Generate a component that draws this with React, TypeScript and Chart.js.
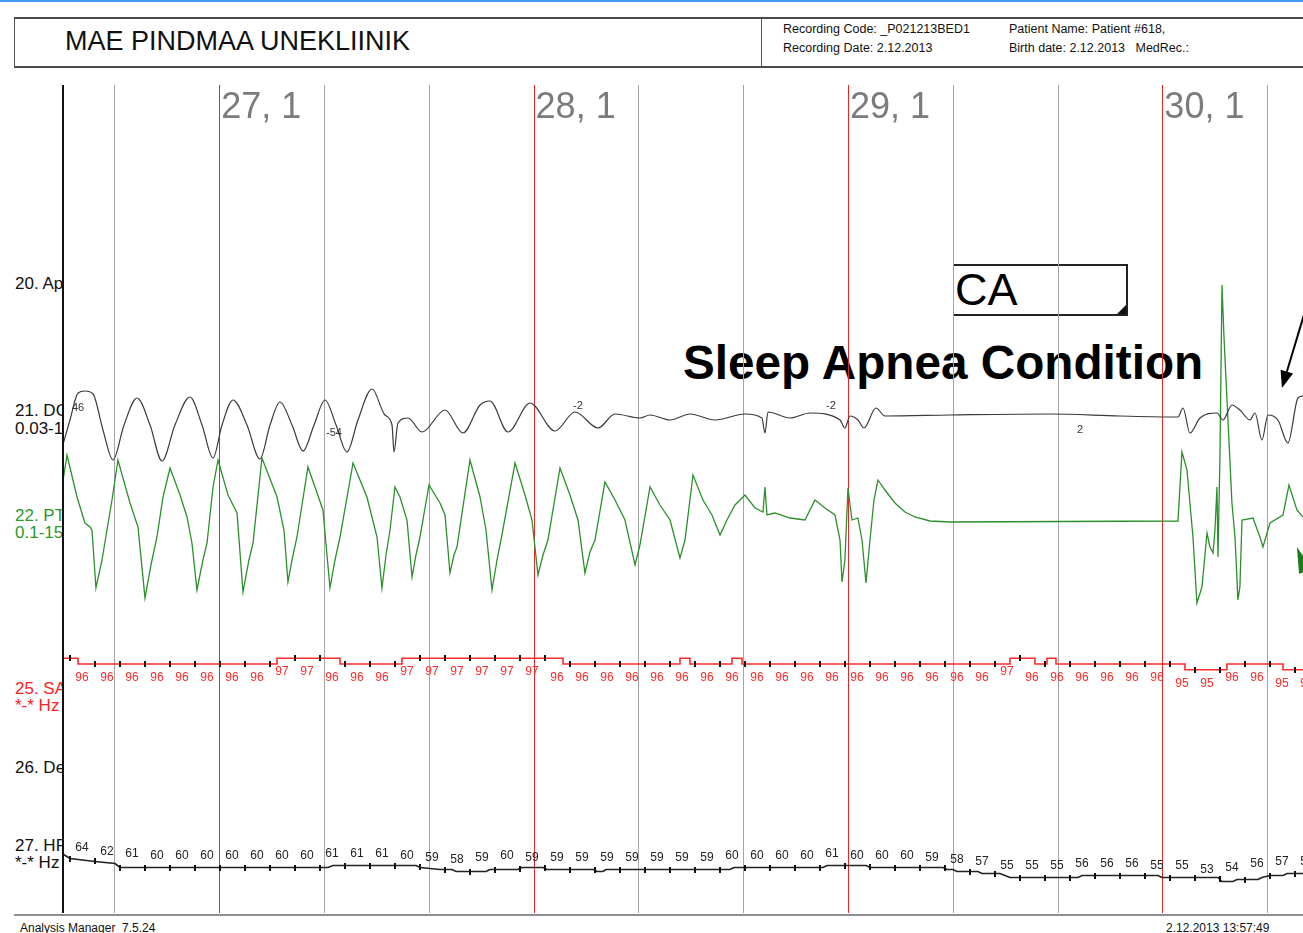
import React, { useEffect, useRef } from "react";
import { Chart, registerables } from "chart.js";

Chart.register(...registerables);

// ---------- time axis (seconds from the left edge of the trace area) ----------
const X_MIN = 0;
const X_MAX = 118.42;
const GRID_T = [5, 15, 25, 35, 45, 55, 65, 75, 85, 95, 105, 115];
const EPOCH_T = [15, 45, 75, 105];
const EPOCH_LABELS = ["27, 1", "28, 1", "29, 1", "30, 1"];

// ---------- sampled trends (SpO2 / HR), one value per sample ----------
const SAMPLE_T0 = 0.76;
const SAMPLE_DT = 2.3855;
const SPO2_VALUES = [
  96, 96, 96, 96, 96, 96, 96, 96, 97, 97,
  96, 96, 96, 97, 97, 97, 97, 97, 97, 96,
  96, 96, 96, 96, 96, 96, 96, 96, 96, 96,
  96, 96, 96, 96, 96, 96, 96, 97, 96, 96,
  96, 96, 96, 96, 95, 95, 96, 96, 95, 95,
];
const HR_VALUES = [
  64, 62, 61, 60, 60, 60, 60, 60, 60, 60,
  61, 61, 61, 60, 59, 58, 59, 60, 59, 59,
  59, 59, 59, 59, 59, 59, 60, 60, 60, 60,
  61, 60, 60, 60, 59, 58, 57, 55, 55, 55,
  56, 56, 56, 55, 55, 53, 54, 56, 57, 57,
];

// SpO2 trend line (step changes)
const SPO2_LINE_T = [0, 1.53, 20.52, 26.53, 32.44, 47.81, 58.97, 59.92, 63.93, 64.89, 90.46, 92.84, 93.99, 94.85, 107.16, 111.16, 116.51, 118.42];
const SPO2_LINE_V = [97, 96, 97, 96, 97, 96, 97, 96, 97, 96, 97, 96, 97, 96, 95, 96, 95, 95];

// HR trend line
const HR_LINE_T = [0, 0.76, 3.15, 5.06, 5.53, 25.38, 25.86, 33.78, 34.16, 35.11, 36.07, 37.21, 37.6, 40.46, 40.84, 43.51, 43.89, 45.9, 46.28, 50.76, 51.05, 51.62, 51.91, 63.74, 64.12, 72.61, 73.0, 76.72, 77.1, 84.06, 84.45, 85.02, 85.4, 87.4, 87.79, 89.5, 90.46, 96.95, 97.33, 104.58, 104.96, 110.31, 110.69, 111.74, 112.12, 114.12, 114.5, 115.27, 116.51, 116.89, 118.42];
const HR_LINE_V = [67, 64.5, 63, 62, 60, 60, 61, 61, 60, 59.5, 59, 59, 58, 58, 59, 59, 60, 60, 59, 59, 58, 58, 59, 59, 60, 60, 61, 61, 60, 60, 59, 59, 58, 58, 57, 57, 55, 55, 56, 56, 55, 55, 53, 53, 54, 54, 55, 56, 56, 57, 57];

// 21. DC channel (effort, amplitude units, + up)
const DC_T = [0, 0.76, 1.53, 2.19, 2.96, 3.91, 4.87, 5.92, 7.16, 8.4, 9.54, 10.78, 12.21, 13.36, 14.41, 15.27, 16.32, 17.65, 18.89, 19.85, 20.8, 21.95, 23.0, 24.05, 25.1, 26.15, 27.19, 28.24, 29.58, 30.82, 31.49, 31.68, 32.06, 33.02, 34.35, 36.55, 38.26, 39.89, 40.84, 42.56, 44.66, 47.04, 48.95, 51.15, 52.77, 55.15, 56.11, 58.02, 59.92, 62.31, 65.17, 66.79, 67.08, 67.37, 69.47, 71.37, 74.24, 74.71, 75.19, 75.95, 76.53, 77.67, 78.53, 84.73, 94.27, 100.95, 106.49, 106.97, 107.63, 108.59, 110.21, 110.78, 111.64, 112.4, 113.36, 113.84, 114.5, 115.08, 116.03, 116.98, 117.94, 118.42];
const DC_V = [-33, -5, 22, 24, 21, -15, -45, -10, 17, -10, -46, -10, 18, -10, -43, -10, 15, -10, -44, -10, 13, -10, -36, -10, 15, -10, -37, -5, 26, 0, -10, -37, -8, -3, -17, 5, -18, 10, 14, -17, 12, -16, 3, -13, 1, -3, 0, -5, 1, -5, 1, -3, -18, 3, -3, 2, -5, -13, -1, -5, -13, 7, -1, 0, 1, -1, -2, 7, -18, -3, 2, -5, 10, 5, -5, 2, -25, 0, -5, -28, 17, 19];

// 22. PT channel (flow, amplitude units, + up)
const PT_T = [0, 0.48, 1.43, 2.19, 2.67, 2.86, 3.24, 3.82, 4.29, 4.77, 5.34, 6.49, 7.25, 7.92, 8.49, 9.06, 9.64, 10.31, 11.26, 11.93, 12.4, 12.88, 13.45, 13.84, 14.41, 14.89, 15.84, 16.7, 17.27, 17.84, 18.23, 19.08, 20.52, 21.18, 21.56, 21.95, 22.42, 23.47, 24.24, 24.9, 25.57, 26.05, 26.53, 27.77, 29.1, 30.06, 30.53, 30.92, 31.3, 31.77, 32.25, 32.92, 33.4, 33.78, 34.16, 35.02, 36.07, 36.55, 37.02, 37.4, 37.69, 38.93, 39.89, 40.46, 41.03, 41.51, 41.98, 43.23, 44.18, 44.85, 45.42, 45.9, 46.37, 47.52, 48.47, 49.24, 49.9, 50.38, 50.86, 51.81, 52.77, 53.72, 54.68, 55.15, 56.11, 57.06, 58.02, 58.97, 59.45, 60.21, 61.16, 62.02, 62.79, 63.45, 64.22, 65.17, 66.13, 66.89, 67.08, 67.27, 68.03, 69.47, 70.9, 71.85, 72.81, 73.76, 74.24, 74.43, 74.71, 75.0, 75.38, 75.95, 76.34, 76.72, 77.1, 77.48, 77.86, 78.53, 79.48, 80.44, 81.39, 82.82, 84.73, 106.49, 106.87, 107.35, 107.92, 108.3, 108.78, 109.26, 109.54, 109.83, 110.02, 110.21, 110.31, 110.5, 110.69, 110.88, 111.26, 111.64, 111.93, 112.21, 112.4, 112.6, 113.65, 114.31, 114.6, 115.27, 116.51, 117.08, 117.84, 118.42];
const PT_V = [35, 67, 25, -1, -5, -8, -66, -38, -8, 22, 62, 19, -5, -76, -43, -15, 25, 54, 27, 5, -21, -68, -38, -21, 35, 62, 27, 9, -70, -38, -21, 64, 25, -8, -60, -38, -15, 55, 32, 12, -66, -38, -15, 59, 25, -15, -66, -33, -8, 35, 25, 2, -55, -33, -15, 37, 19, 7, -51, -33, -25, 62, 25, -8, -68, -38, -13, 59, 27, 2, -53, -33, -18, 54, 27, 2, -51, -30, -18, 40, 22, 2, -43, -23, 35, 17, 2, -36, -18, 47, 22, 7, -13, 2, 17, 27, 14, 10, 35, 7, 9, 4, 2, 22, 14, 7, -18, -60, -38, 34, 2, 4, -18, -61, -18, 22, 42, 32, 19, 10, 5, 1, 0, 1, 70, 52, -15, -81, -65, -11, -25, -31, -8, 35, -35, 69, 237, 185, 102, 19, -15, -78, -65, 2, 4, -15, -25, -1, 7, 37, 12, 5];

// value labels printed on the DC trace
const DC_NOTE_T = [0.95, 25.19, 48.76, 72.9, 96.85];
const DC_NOTE_V = [7, -18, 9, 9, -15];
const DC_NOTE_TEXT = ["46", "-54", "-2", "-2", "2"];

// annotation arrows (data coordinates)
const ARROW_BLACK = { t0: 119.08, v0: 120, t1: 116.41, v1: 27 };
const ARROW_GREEN = { t0: 121.0, v0: -118, t1: 117.84, v1: -25 };

const FONT = '"Liberation Sans", Arial, Helvetica, sans-serif';

const pts = (ts: number[], vs: number[]) => ts.map((t, i) => ({ x: t, y: vs[i] }));

function stepAt(ts: number[], vs: number[], t: number) {
  let v = vs[0];
  for (let i = 0; i < ts.length; i++) {
    if (ts[i] <= t) v = vs[i];
    else break;
  }
  return v;
}
function linAt(ts: number[], vs: number[], t: number) {
  if (t <= ts[0]) return vs[0];
  for (let i = 1; i < ts.length; i++) {
    if (t <= ts[i]) {
      const f = (t - ts[i - 1]) / (ts[i] - ts[i - 1]);
      return vs[i - 1] + f * (vs[i] - vs[i - 1]);
    }
  }
  return vs[vs.length - 1];
}

function drawArrow(ctx: CanvasRenderingContext2D, x0: number, y0: number, x1: number, y1: number, color: string, headLen: number, headHalf: number, lw: number) {
  const dx = x1 - x0, dy = y1 - y0;
  const len = Math.hypot(dx, dy);
  const ux = dx / len, uy = dy / len;
  const bx = x1 - ux * headLen, by = y1 - uy * headLen;
  const px = -uy, py = ux;
  ctx.strokeStyle = color;
  ctx.fillStyle = color;
  ctx.lineWidth = lw;
  ctx.beginPath();
  ctx.moveTo(x0, y0);
  ctx.lineTo(bx, by);
  ctx.stroke();
  ctx.beginPath();
  ctx.moveTo(x1, y1);
  ctx.lineTo(bx + px * headHalf, by + py * headHalf);
  ctx.lineTo(bx - px * headHalf, by - py * headHalf);
  ctx.closePath();
  ctx.fill();
}

const overlayPlugin = {
  id: "psgOverlay",
  beforeDatasetsDraw(chart: any) {
    const { ctx, chartArea: a, scales } = chart;
    const x = scales.x;
    ctx.save();
    GRID_T.forEach((t) => {
      const px = Math.round(x.getPixelForValue(t)) + 0.5;
      const red = EPOCH_T.includes(t);
      ctx.strokeStyle = red ? "#e8262a" : "#a4a4a4";
      ctx.lineWidth = 1;
      ctx.beginPath();
      ctx.moveTo(px, a.top);
      ctx.lineTo(px, a.bottom);
      ctx.stroke();
    });
    ctx.fillStyle = "#7b7b7b";
    ctx.font = `36px ${FONT}`;
    ctx.textAlign = "left";
    ctx.textBaseline = "alphabetic";
    EPOCH_T.forEach((t, i) => {
      ctx.fillText(EPOCH_LABELS[i], x.getPixelForValue(t) + 2, a.top + 33);
    });
    ctx.restore();
  },
  afterDatasetsDraw(chart: any) {
    const { ctx, chartArea: a, scales } = chart;
    const x = scales.x;
    const yS = scales.ySpO2;
    const yH = scales.yHR;
    const yD = scales.yDC;
    const yP = scales.yPT;
    ctx.save();
    ctx.beginPath();
    ctx.rect(a.left, a.top, a.right - a.left, a.bottom - a.top);
    ctx.clip();

    ctx.textAlign = "center";
    ctx.textBaseline = "middle";
    ctx.font = `12px ${FONT}`;
    for (let k = 0; k < SPO2_VALUES.length; k++) {
      const t = SAMPLE_T0 + k * SAMPLE_DT;
      const px = x.getPixelForValue(t);
      // SpO2 tick + label
      const sy = yS.getPixelForValue(stepAt(SPO2_LINE_T, SPO2_LINE_V, t));
      ctx.fillStyle = "#111";
      ctx.fillRect(Math.round(px) - 1, Math.round(sy) - 3, 2, 6);
      ctx.fillStyle = "#ff2a2a";
      ctx.fillText(String(SPO2_VALUES[k]), px + 12, yS.getPixelForValue(SPO2_VALUES[k]) + 13.5);
      // HR tick + label
      const hy = yH.getPixelForValue(linAt(HR_LINE_T, HR_LINE_V, t));
      ctx.fillStyle = "#111";
      ctx.fillRect(Math.round(px) - 1, Math.round(hy) - 3, 2, 6);
      ctx.fillStyle = "#222";
      ctx.fillText(String(HR_VALUES[k]), px + 12, yH.getPixelForValue(HR_VALUES[k]) - 12);
    }

    ctx.textAlign = "left";
    ctx.font = `11px ${FONT}`;
    ctx.fillStyle = "#333";
    DC_NOTE_T.forEach((t, i) => {
      ctx.fillText(DC_NOTE_TEXT[i], x.getPixelForValue(t), yD.getPixelForValue(DC_NOTE_V[i]));
    });

    drawArrow(ctx,
      x.getPixelForValue(ARROW_BLACK.t0), yD.getPixelForValue(ARROW_BLACK.v0),
      x.getPixelForValue(ARROW_BLACK.t1), yD.getPixelForValue(ARROW_BLACK.v1),
      "#000", 17, 6.5, 2);
    drawArrow(ctx,
      x.getPixelForValue(ARROW_GREEN.t0), yP.getPixelForValue(ARROW_GREEN.v0),
      x.getPixelForValue(ARROW_GREEN.t1), yP.getPixelForValue(ARROW_GREEN.v1),
      "#1c7c1c", 26, 7, 2);
    ctx.restore();

    // left border of the trace area
    ctx.save();
    ctx.strokeStyle = "#111";
    ctx.lineWidth = 2;
    ctx.beginPath();
    ctx.moveTo(a.left + 1, a.top);
    ctx.lineTo(a.left + 1, a.bottom);
    ctx.stroke();
    ctx.restore();
  },
};

function Txt(props: { x: number; cy: number; size: number; color?: string; weight?: number; children: React.ReactNode }) {
  const { x, cy, size, color = "#111", weight = 400, children } = props;
  return (
    <div
      style={{
        position: "absolute",
        left: x,
        top: cy - 0.4885 * size,
        fontSize: size,
        lineHeight: `${size}px`,
        color,
        fontWeight: weight,
        whiteSpace: "pre",
      }}
    >
      {children}
    </div>
  );
}

const LEFT_LABELS = [
  { text: "20. Apnea", cy: 283, color: "#111" },
  { text: "21. DC Thorax", cy: 410, color: "#111" },
  { text: "0.03-15 Hz", cy: 428, color: "#111" },
  { text: "22. PTAF", cy: 515, color: "#2a9a2a" },
  { text: "0.1-15 Hz", cy: 532, color: "#2a9a2a" },
  { text: "25. SAO2", cy: 688, color: "#ff2020" },
  { text: "*-* Hz", cy: 705, color: "#ff2020" },
  { text: "26. Desat", cy: 767, color: "#111" },
  { text: "27. HR", cy: 845, color: "#111" },
  { text: "*-* Hz", cy: 862, color: "#111" },
];

export default function App() {
  const ref = useRef<HTMLCanvasElement>(null);

  useEffect(() => {
    const canvas = ref.current;
    if (!canvas) return;
    const chart = new Chart(canvas, {
      type: "line",
      data: {
        datasets: [
          {
            data: pts(DC_T, DC_V),
            yAxisID: "yDC",
            borderColor: "#3a3a3a",
            borderWidth: 1.2,
            cubicInterpolationMode: "monotone",
            pointRadius: 0,
          },
          {
            data: pts(PT_T, PT_V),
            yAxisID: "yPT",
            borderColor: "#2b8f2b",
            borderWidth: 1.3,
            tension: 0,
            pointRadius: 0,
          },
          {
            data: pts(SPO2_LINE_T, SPO2_LINE_V),
            yAxisID: "ySpO2",
            borderColor: "#ff2b2b",
            borderWidth: 1.6,
            stepped: "before",
            pointRadius: 0,
          },
          {
            data: pts(HR_LINE_T, HR_LINE_V),
            yAxisID: "yHR",
            borderColor: "#222",
            borderWidth: 1.7,
            tension: 0,
            pointRadius: 0,
          },
        ],
      } as any,
      options: {
        responsive: false,
        animation: false,
        devicePixelRatio: 1,
        events: [],
        layout: { padding: { left: 62, right: 0, top: 85, bottom: 20 } },
        plugins: { legend: { display: false }, tooltip: { enabled: false } },
        scales: {
          x: { type: "linear", min: X_MIN, max: X_MAX, display: false },
          yDC: { type: "linear", min: -498, max: 330, display: false },
          yPT: { type: "linear", min: -391, max: 437, display: false },
          ySpO2: { type: "linear", min: 52.32, max: 197.58, display: false },
          yHR: { type: "linear", min: 37.25, max: 451.25, display: false },
        },
      } as any,
      plugins: [overlayPlugin as any],
    });
    return () => chart.destroy();
  }, []);

  return (
    <div
      style={{
        position: "fixed",
        left: 0,
        top: 0,
        width: 1303,
        height: 933,
        background: "#fff",
        overflow: "hidden",
        fontFamily: FONT,
      }}
    >
      {/* top blue rule */}
      <div style={{ position: "absolute", left: 0, top: 0, width: 1303, height: 2, background: "#3f9cf2" }} />

      {/* header box */}
      <div
        style={{
          position: "absolute",
          left: 14,
          top: 17,
          width: 1310,
          height: 51,
          boxSizing: "border-box",
          borderTop: "2px solid #4a4a4a",
          borderBottom: "2px solid #4a4a4a",
          borderLeft: "1px solid #555",
        }}
      />
      <div style={{ position: "absolute", left: 761, top: 17, width: 1, height: 51, background: "#555" }} />
      <Txt x={65} cy={41} size={27}>MAE PINDMAA UNEKLIINIK</Txt>
      <Txt x={783} cy={29} size={12.5}>Recording Code: _P021213BED1</Txt>
      <Txt x={783} cy={48} size={12.5}>Recording Date: 2.12.2013</Txt>
      <Txt x={1009} cy={29} size={12.5}>Patient Name: Patient #618,</Txt>
      <Txt x={1009} cy={48} size={12.5}>{"Birth date: 2.12.2013   MedRec.:"}</Txt>

      {/* channel labels, cut at the trace area */}
      <div style={{ position: "absolute", left: 15, top: 0, width: 47, height: 933, overflow: "hidden" }}>
        {LEFT_LABELS.map((l, i) => (
          <Txt key={i} x={0} cy={l.cy} size={17} color={l.color}>{l.text}</Txt>
        ))}
      </div>

      {/* event box and caption */}
      <div
        style={{
          position: "absolute",
          left: 953,
          top: 264,
          width: 175,
          height: 52,
          boxSizing: "border-box",
          borderTop: "2px solid #222",
          borderBottom: "2px solid #222",
          borderLeft: "1px solid #444",
          borderRight: "2px solid #222",
        }}
      >
        <div
          style={{
            position: "absolute",
            right: 0,
            bottom: 0,
            width: 0,
            height: 0,
            borderLeft: "9px solid transparent",
            borderBottom: "9px solid #111",
          }}
        />
      </div>
      <Txt x={955} cy={289} size={45} color="#000">CA</Txt>
      <Txt x={683} cy={362} size={47.7} weight={700} color="#000">Sleep Apnea Condition</Txt>

      {/* bottom rule and footer */}
      <div style={{ position: "absolute", left: 14, top: 914, width: 1300, height: 2, background: "#8e8e8e" }} />
      <Txt x={20} cy={928} size={12}>{"Analysis Manager  7.5.24"}</Txt>
      <Txt x={1166} cy={928} size={12}>2.12.2013 13:57:49</Txt>

      <canvas
        ref={ref}
        width={1303}
        height={933}
        style={{ position: "absolute", left: 0, top: 0, width: 1303, height: 933, display: "block" }}
      />
    </div>
  );
}
